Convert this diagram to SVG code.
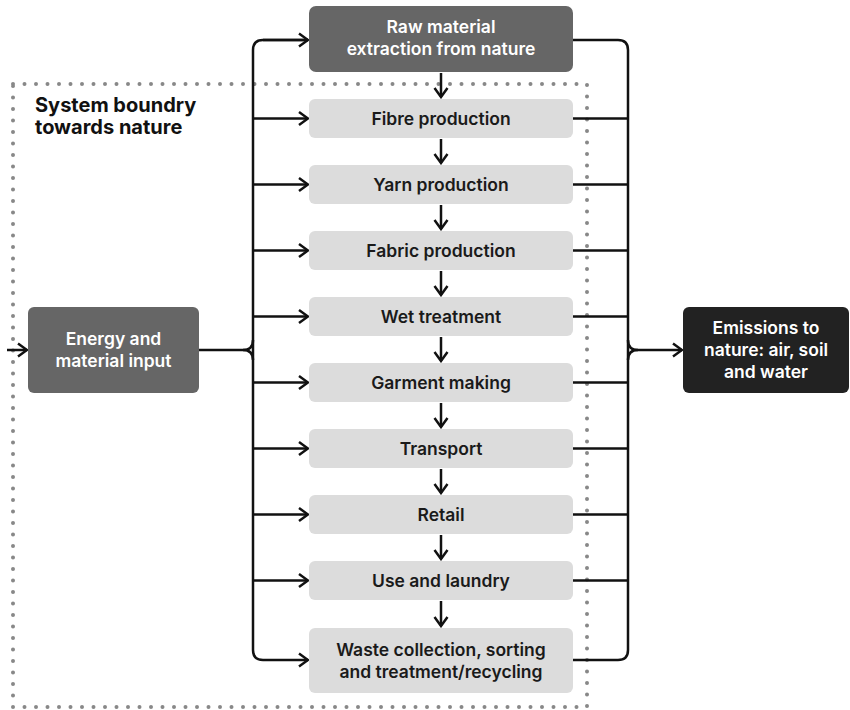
<svg xmlns="http://www.w3.org/2000/svg" width="850" height="710" viewBox="0 0 850 710">
<style>
.dark{fill:#666666}
.light{fill:#dcdcdc}
.black{fill:#222222}
.t{font-family:Inter,"Liberation Sans",sans-serif;font-size:17.5px;font-weight:600;text-anchor:middle}
.tw{fill:#ffffff}
.tb{fill:#1a1a1a}
.c{fill:none;stroke:#111111;stroke-width:2.5}
.title{font-family:Inter,"Liberation Sans",sans-serif;font-size:20px;font-weight:700;fill:#111111}
</style>
<defs>
<marker id="ah" markerUnits="userSpaceOnUse" viewBox="-12 -9 14 18" markerWidth="14" markerHeight="18" refX="0" refY="0" orient="auto">
<path d="M-9,-6.5 L0,0 L-9,6.5" fill="none" stroke="#111111" stroke-width="2.5" stroke-linejoin="miter"/>
</marker>
</defs>
<rect width="850" height="710" fill="#ffffff"/>
<g id="boundary">
<rect x="13" y="84" width="574" height="623" fill="none" stroke="#888888" stroke-width="4" stroke-linecap="round" stroke-dasharray="0 11.5"/>
<text class="title" x="35" y="112">System boundry</text>
<text class="title" x="35" y="134">towards nature</text>
</g>
<g id="connectors">
<path class="c" d="M308,40 H263 Q253,40 253,50 V650 Q253,660 263,660 H308" marker-end="url(#ah)"/>
<path class="c" d="M263,40 H308" marker-end="url(#ah)"/>
<path class="c" d="M199,350 H243 Q253,350 253,340"/>
<path class="c" d="M243,350 Q253,350 253,360"/>
<path class="c" d="M7,350 H27" marker-end="url(#ah)"/>
<path class="c" d="M253,118.5 H308" marker-end="url(#ah)"/>
<path class="c" d="M253,184.5 H308" marker-end="url(#ah)"/>
<path class="c" d="M253,250.5 H308" marker-end="url(#ah)"/>
<path class="c" d="M253,316.5 H308" marker-end="url(#ah)"/>
<path class="c" d="M253,382.5 H308" marker-end="url(#ah)"/>
<path class="c" d="M253,448.5 H308" marker-end="url(#ah)"/>
<path class="c" d="M253,514.5 H308" marker-end="url(#ah)"/>
<path class="c" d="M253,580.5 H308" marker-end="url(#ah)"/>
<path class="c" d="M573,40 H618 Q628,40 628,50 V650 Q628,660 618,660 H573"/>
<path class="c" d="M628,340 Q628,350 638,350 H682" marker-end="url(#ah)"/>
<path class="c" d="M628,360 Q628,350 638,350"/>
<path class="c" d="M573,118.5 H628"/>
<path class="c" d="M573,184.5 H628"/>
<path class="c" d="M573,250.5 H628"/>
<path class="c" d="M573,316.5 H628"/>
<path class="c" d="M573,382.5 H628"/>
<path class="c" d="M573,448.5 H628"/>
<path class="c" d="M573,514.5 H628"/>
<path class="c" d="M573,580.5 H628"/>
<path class="c" d="M441,73 V97" marker-end="url(#ah)"/>
<path class="c" d="M441,139 V163" marker-end="url(#ah)"/>
<path class="c" d="M441,205 V229" marker-end="url(#ah)"/>
<path class="c" d="M441,271 V295" marker-end="url(#ah)"/>
<path class="c" d="M441,337 V361" marker-end="url(#ah)"/>
<path class="c" d="M441,403 V427" marker-end="url(#ah)"/>
<path class="c" d="M441,469 V493" marker-end="url(#ah)"/>
<path class="c" d="M441,535 V559" marker-end="url(#ah)"/>
<path class="c" d="M441,601 V626" marker-end="url(#ah)"/>
</g>
<g id="raw">
<rect class="dark" x="309" y="6" width="264" height="66" rx="7"/>
<text class="t tw" x="441" y="33">Raw material</text>
<text class="t tw" x="441" y="55">extraction from nature</text>
</g>
<g id="fibre">
<rect class="light" x="309" y="99" width="264" height="39" rx="6"/>
<text class="t tb" x="441" y="124.5">Fibre production</text>
</g>
<g id="yarn">
<rect class="light" x="309" y="165" width="264" height="39" rx="6"/>
<text class="t tb" x="441" y="190.5">Yarn production</text>
</g>
<g id="fabric">
<rect class="light" x="309" y="231" width="264" height="39" rx="6"/>
<text class="t tb" x="441" y="256.5">Fabric production</text>
</g>
<g id="wet">
<rect class="light" x="309" y="297" width="264" height="39" rx="6"/>
<text class="t tb" x="441" y="322.5">Wet treatment</text>
</g>
<g id="garment">
<rect class="light" x="309" y="363" width="264" height="39" rx="6"/>
<text class="t tb" x="441" y="388.5">Garment making</text>
</g>
<g id="transport">
<rect class="light" x="309" y="429" width="264" height="39" rx="6"/>
<text class="t tb" x="441" y="454.5">Transport</text>
</g>
<g id="retail">
<rect class="light" x="309" y="495" width="264" height="39" rx="6"/>
<text class="t tb" x="441" y="520.5">Retail</text>
</g>
<g id="use">
<rect class="light" x="309" y="561" width="264" height="39" rx="6"/>
<text class="t tb" x="441" y="586.5">Use and laundry</text>
</g>
<g id="waste">
<rect class="light" x="309" y="628" width="264" height="65" rx="6"/>
<text class="t tb" x="441" y="656">Waste collection, sorting</text>
<text class="t tb" x="441" y="678">and treatment/recycling</text>
</g>
<g id="energy">
<rect class="dark" x="28" y="307" width="171" height="86" rx="6"/>
<text class="t tw" x="113.5" y="345">Energy and</text>
<text class="t tw" x="113.5" y="367">material input</text>
</g>
<g id="emissions">
<rect class="black" x="683" y="307" width="166" height="86" rx="6"/>
<text class="t tw" x="766" y="334">Emissions to</text>
<text class="t tw" x="766" y="356">nature: air, soil</text>
<text class="t tw" x="766" y="378">and water</text>
</g>
</svg>
